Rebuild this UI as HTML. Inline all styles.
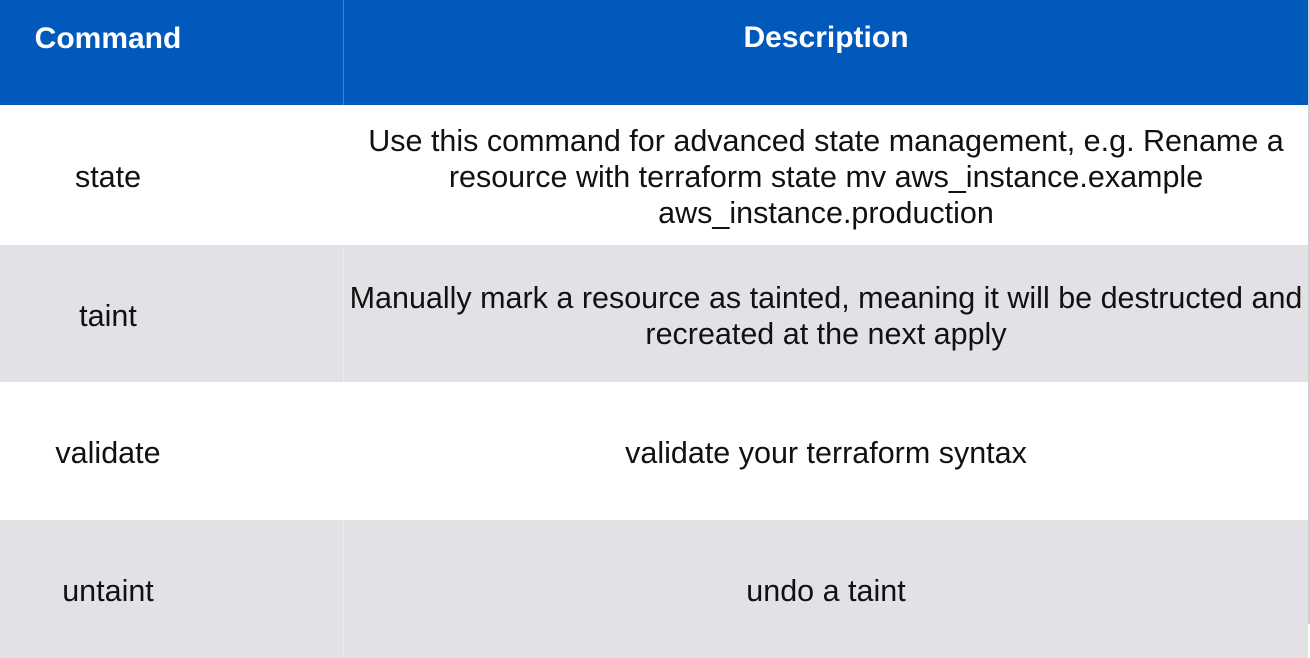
<!DOCTYPE html>
<html><head><style>
html,body{margin:0;padding:0;width:1310px;height:624px;overflow:hidden;background:#fff;font-family:"Liberation Sans",Arial,sans-serif;}
.row{position:absolute;left:0;width:1308px;display:flex;}
.c1{width:343px;position:relative;}
.c1 span{position:absolute;left:108px;top:50%;transform:translate(-50%,-50%);white-space:nowrap;margin-top:2px;}
.c2{flex:1;display:flex;align-items:center;justify-content:center;text-align:center;border-left:1px solid rgba(255,255,255,0.5);white-space:nowrap;padding-top:4px;}
.hd{background:#0059BB;color:#fff;font-weight:bold;font-size:30px;}
.hd .c2{border-left:1px solid #3a82d6;align-items:flex-start;padding-top:21px;}
.hd .c1 span{top:38px;margin-top:1px;}
.body{font-size:30.5px;color:#111;line-height:36px;}
.g{background:#E2E2E6;}
.g .c2{border-left:1px solid #ececf0;}
</style></head><body>
<div class="row hd" style="top:0;height:105px;"><div class="c1"><span>Command</span></div><div class="c2">Description</div></div>
<div class="row body" style="top:105px;height:140px;"><div class="c1"><span>state</span></div><div class="c2">Use this command for advanced state management, e.g. Rename a<br>resource with terraform state mv aws_instance.example<br>aws_instance.production</div></div>
<div class="row body g" style="top:245px;height:137px;"><div class="c1"><span>taint</span></div><div class="c2">Manually mark a resource as tainted, meaning it will be destructed and<br>recreated at the next apply</div></div>
<div class="row body" style="top:382px;height:138px;"><div class="c1"><span>validate</span></div><div class="c2">validate your terraform syntax</div></div>
<div class="row body g" style="top:520px;height:138px;"><div class="c1"><span>untaint</span></div><div class="c2">undo a taint</div></div>
<div style="position:absolute;left:1308px;top:0;width:2px;height:624px;background:#d0d0d4;"></div>
</body></html>
